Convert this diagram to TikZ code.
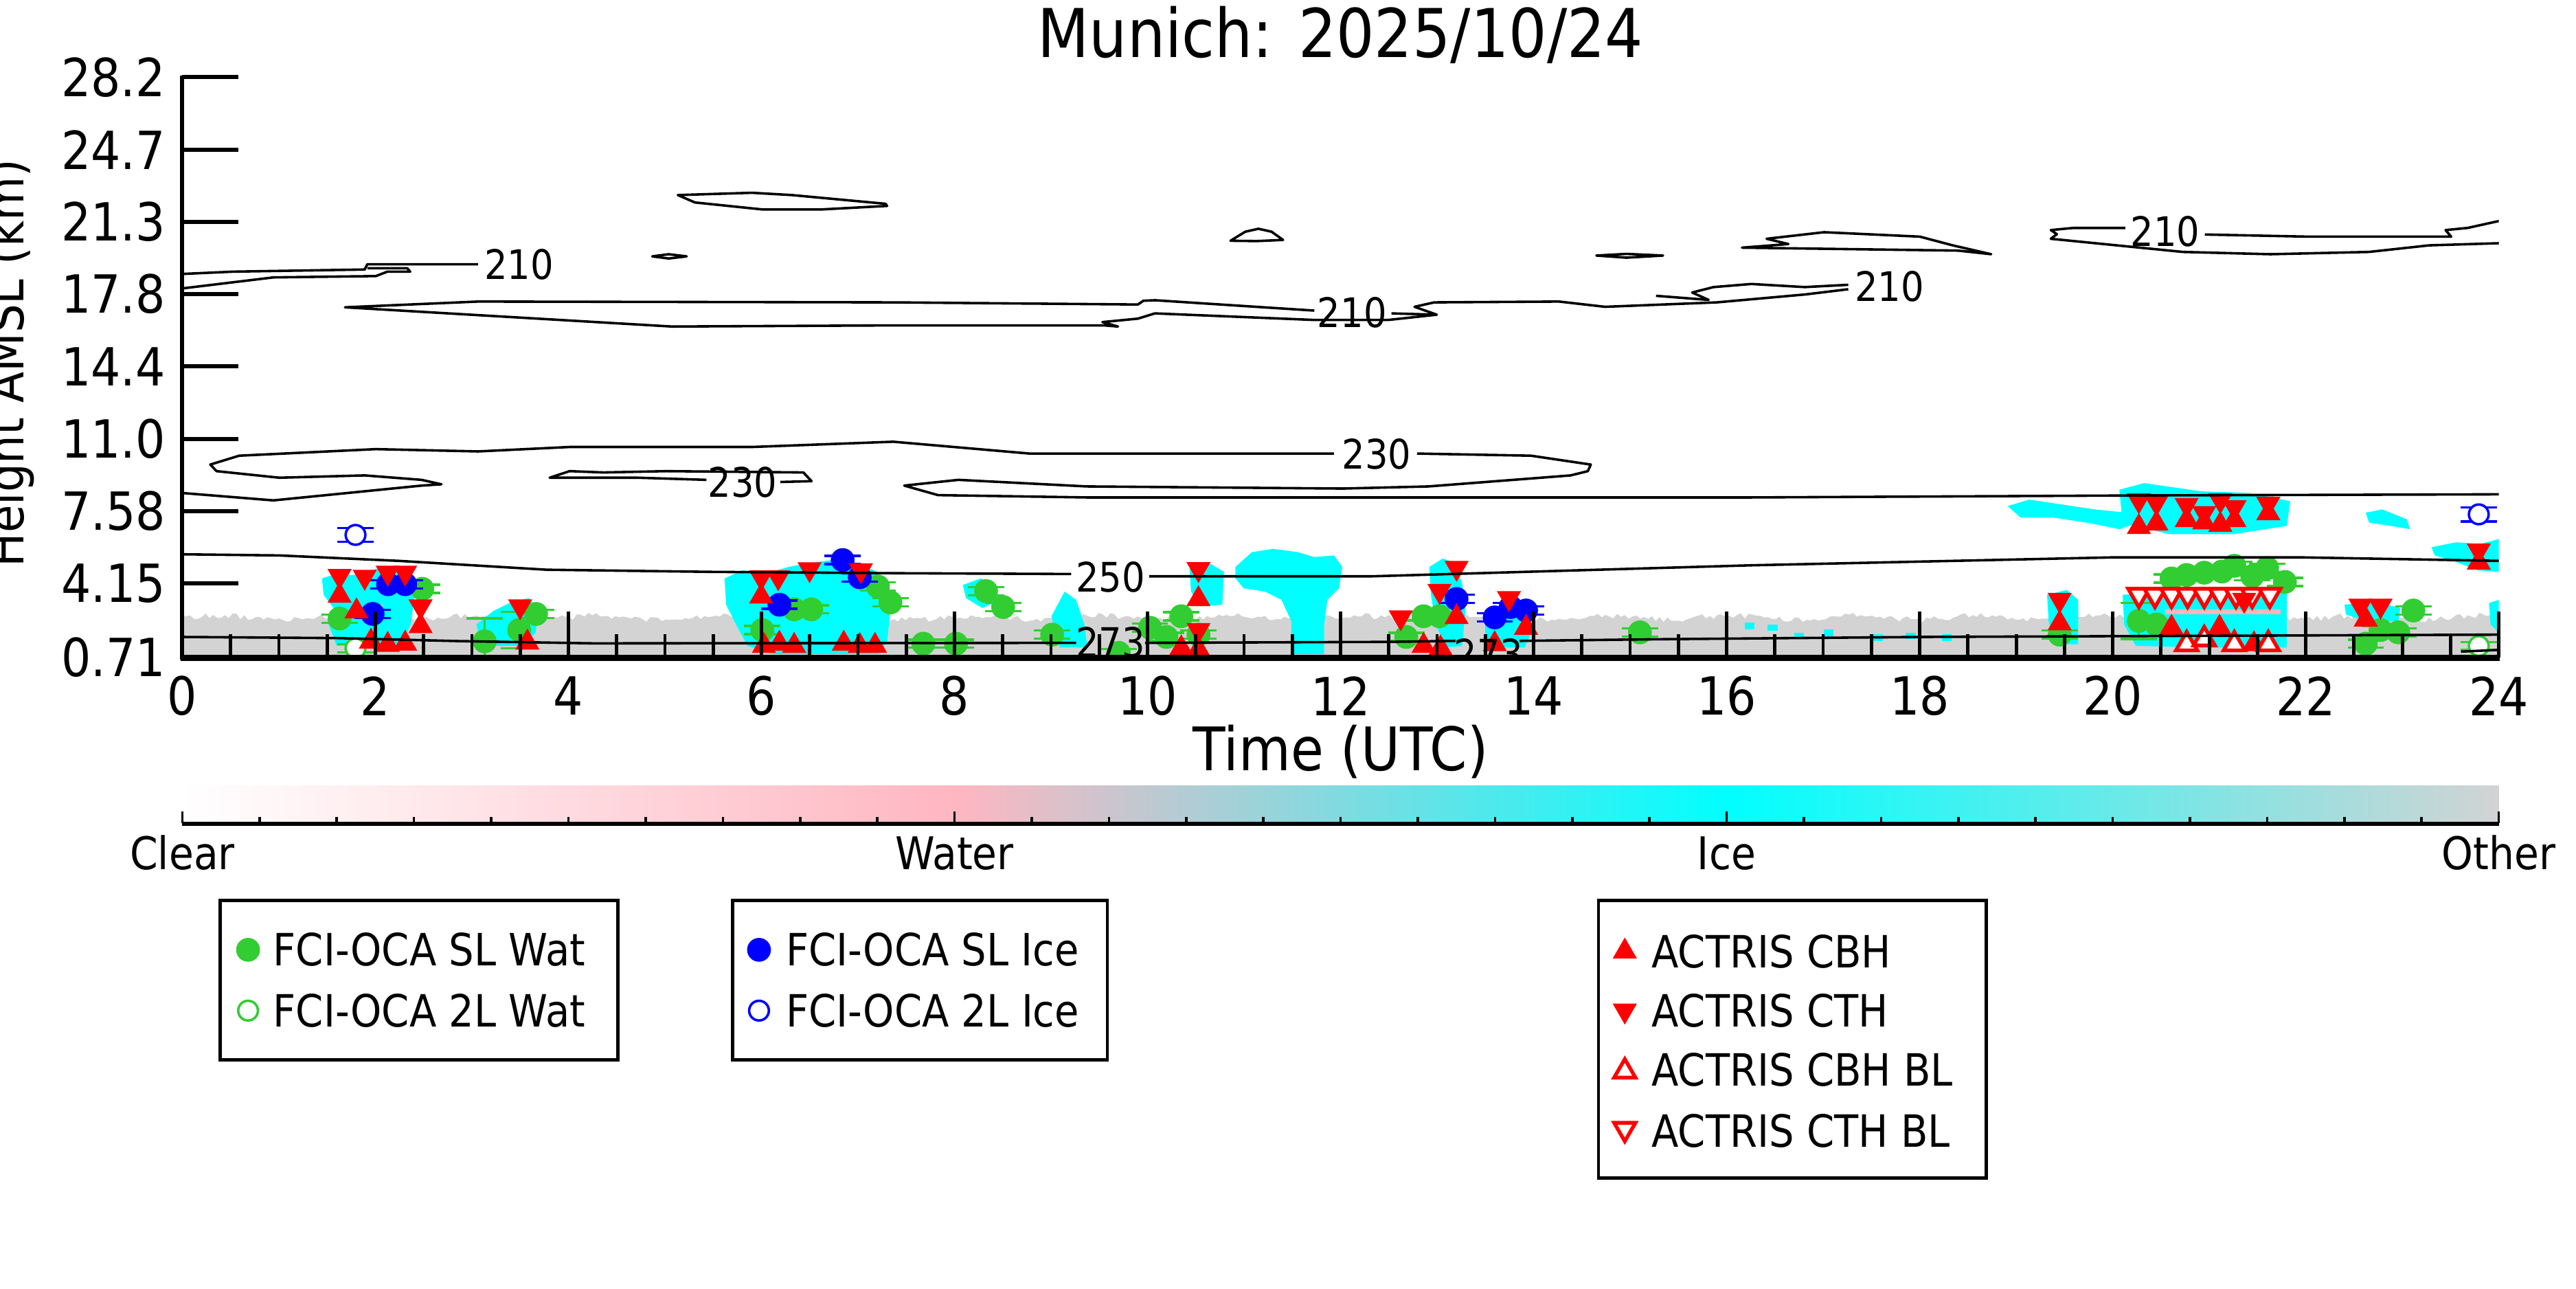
\documentclass[tikz,border=0pt]{standalone}
\usepackage{fontspec}
\setmainfont[FakeStretch=0.89]{DejaVu Sans}
\usepackage{tikz}
\usetikzlibrary{shapes.geometric}
\definecolor{watgreen}{RGB}{50,205,50}
\definecolor{iceblue}{RGB}{0,0,255}
\definecolor{actred}{RGB}{255,0,0}
\definecolor{icecyan}{RGB}{0,255,255}
\definecolor{watpink}{RGB}{255,182,193}
\definecolor{othgray}{RGB}{211,211,211}
\tikzset{
    contour/.style = {line width=0.3mm,line join=round},
    clabel/.style = {inner sep=0,font=\fontsize{14.1}{15}\selectfont},
    ttl/.style = {inner sep=0,font=\fontsize{23.3}{26}\selectfont},
    ticklab/.style = {inner sep=0,font=\fontsize{18.2}{20}\selectfont},
    axlab/.style = {inner sep=0,font=\fontsize{20.8}{23}\selectfont},
    cblab/.style = {inner sep=0,font=\fontsize{15.6}{17}\selectfont},
    leglab/.style = {inner sep=0,anchor=west,font=\fontsize{15.4}{17}\selectfont},
    legbox/.style = {line width=0.4mm},
    ice/.style = {fill=icecyan},
    water/.style = {fill=watpink},
    swat/.style = {circle,fill=watgreen,inner sep=0,minimum size=2.9mm},
    twat/.style = {circle,draw=watgreen,fill=white,line width=0.3mm,inner sep=0,minimum size=2.4mm},
    sice/.style = {circle,fill=iceblue,inner sep=0,minimum size=2.9mm},
    tice/.style = {circle,draw=iceblue,fill=white,line width=0.3mm,inner sep=0,minimum size=2.4mm},
    cbh/.style = {regular polygon,regular polygon sides=3,fill=actred,inner sep=0,minimum size=3.4mm},
    cth/.style = {cbh,regular polygon rotate=180},
    cbhbl/.style = {regular polygon,regular polygon sides=3,draw=actred,fill=white,line width=0.45mm,inner sep=0,minimum size=3mm},
    cthbl/.style = {cbhbl,regular polygon rotate=180},
    pics/errbar/.style = {code={\draw[line width=0.28mm] (-11,-#1) -- (11,-#1) (-11,#1) -- (11,#1) (0,-#1) -- (0,#1);}},
    pics/errbar/.default = 2.5
}

\begin{document}
\begin{tikzpicture}[x=0.2mm,y=-0.2mm]
        \useasboundingbox (0,0) rectangle (1568,784);
        \pgfmathsetseed{4711}
        % Title
        \node[ttl,anchor=base] (title) at (816,35) {Munich: 2025/10/24};
        % Cloud phase field
        \begin{scope}
        \clip (111,47) rectangle (1521,400);
        \fill[othgray] (111,401) -- plot[domain=111:1521,samples=600] (\x,{374+1.2*sin(\x*4.7)+3.5*rnd}) -- (1521,401) -- cycle;
        \fill[ice] (196,352) -- (205,349) -- (215,350) -- (230,346) -- (245,347) -- (253,352) -- (252,365) -- (250,380) -- (244,393) -- (205,393) -- (200,380) -- (203,370) -- (197,362) -- cycle;
        \fill[ice] (290,380) -- (300,372) -- (312,366) -- (322,364) -- (328,372) -- (326,385) -- (318,393) -- (300,393) -- (292,388) -- cycle;
        \fill[ice] (441,352) -- (452,347) -- (466,349) -- (480,345) -- (490,343) -- (505,341) -- (520,343) -- (532,347) -- (540,355) -- (542,372) -- (540,390) -- (535,398) -- (470,398) -- (455,393) -- (448,380) -- (442,368) -- cycle;
        \fill[ice] (586,356) -- (597,352) -- (606,356) -- (607,366) -- (598,370) -- (588,364) -- cycle;
        \fill[ice] (640,375) -- (648,360) -- (655,365) -- (660,380) -- (662,394) -- (645,394) -- cycle;
        \fill[ice] (724,346) -- (735,342) -- (745,348) -- (744,368) -- (730,369) -- (725,360) -- cycle;
        \fill[ice] (752,345) -- (762,336) -- (775,334) -- (790,336) -- (800,339) -- (812,338) -- (817,345) -- (815,358) -- (808,365) -- (806,380) -- (806,398) -- (786,398) -- (786,378) -- (780,365) -- (770,360) -- (757,358) -- (752,352) -- cycle;
        \fill[ice] (870,345) -- (878,340) -- (885,342) -- (890,355) -- (892,372) -- (890,393) -- (880,394) -- (874,380) -- (871,362) -- cycle;
        \fill[ice] (904,372) -- (915,368) -- (930,370) -- (932,385) -- (928,394) -- (908,394) -- (904,385) -- cycle;
        \fill[ice] (1246,362) -- (1258,359) -- (1265,365) -- (1265,392) -- (1250,392) -- (1247,378) -- cycle;
        \fill[ice] (1292,362) -- (1310,360) -- (1340,359) -- (1370,359) -- (1392,360) -- (1392,394) -- (1340,394) -- (1300,393) -- (1293,380) -- cycle;
        \fill[ice] (1222,308) -- (1235,304) -- (1255,307) -- (1275,310) -- (1295,312) -- (1302,318) -- (1290,322) -- (1270,318) -- (1250,315) -- (1230,315) -- cycle;
        \fill[ice] (1290,298) -- (1305,294) -- (1340,299) -- (1370,300) -- (1394,305) -- (1392,320) -- (1360,325) -- (1320,325) -- (1292,318) -- cycle;
        \fill[ice] (1440,312) -- (1450,310) -- (1465,316) -- (1467,322) -- (1455,320) -- (1442,318) -- cycle;
        \fill[ice] (1480,333) -- (1495,330) -- (1510,331) -- (1521,328) -- (1521,348) -- (1508,347) -- (1495,342) -- (1482,338) -- cycle;
        \fill[ice] (1427,368) -- (1445,366) -- (1461,370) -- (1460,378) -- (1440,378) -- (1428,374) -- cycle;
        \fill[ice] (1515,367) -- (1521,365) -- (1521,385) -- (1516,380) -- cycle;
        \foreach \x/\y in {1076/380,1092/385,1110/383,1140/386,1160/385,1182/386,1062/379}
            \fill[ice] (\x,\y) rectangle +(6,4);
        \fill[water] (1318,371) rectangle (1388,374);
        \fill[water] (229,368) rectangle (233,376);
        % FCI-OCA single layer water
        \foreach \x/\y/\e [count=\i] in {206.7/376.4/2.5,257/358.3/2.5,295/390.3/14,316/383.4/11,326.3/373.6/2.5,
                464/383.4/2.5,483.4/370.8/2.5,493.8/370.8/2.5,534.4/356.9/2.5,542/366.6/2.5,562/391.7/2.5,
                581.9/391.7/2.5,600.2/359.7/2.5,610.6/369.4/2.5,640.4/386.2/2.5,681/397.3/2.5,700/382/2.5,
                710/387.6/2.5,719/375/2.5,729.5/386.2/2.5,856/387.6/2.5,866.5/375/2.5,876.2/375/2.5,
                998.2/384.8/2.5,1253.7/386.2/2.5,1301.9/377.8/11,1312.6/380/2.5,1321.8/352/2.5,1331/349.9/2.5,
                1341.7/348.5/2.5,1352.5/347.8/2.5,1360/344.3/2.5,1370.9/350.6/2.5,1380/345.7/2.5,
                1390.8/354.1/2.5,1440/391.7/2.5,1449/383.4/2.5,1459.8/384.8/2.5,1469/371.5/2.5} {
            \pic[watgreen] at (\x,\y) {errbar=\e};
            \node[swat] (sw\i) at (\x,\y) {};
        }
        % FCI-OCA two layer water
        \foreach \x/\y [count=\i] in {216.4/394.5,1508.8/393.1} {
            \pic[watgreen] at (\x,\y) {errbar};
            \node[twat] (tw\i) at (\x,\y) {};
        }
        % FCI-OCA ice
        \foreach \x/\y [count=\i] in {236.2/355.5,246.6/355.5,226.8/373.6,474.4/368,512.9/340.8,523.3/351.3,
                886.6/364.5,909.8/375.7,919.5/369.4,928.9/371.5} {
            \pic[iceblue] at (\x,\y) {errbar};
            \node[sice] (si\i) at (\x,\y) {};
        }
        \foreach \x/\y [count=\i] in {216.4/325.5,1508.8/313} {
            \pic[iceblue] at (\x,\y) {errbar=4.3};
            \node[tice] (ti\i) at (\x,\y) {};
        }
        % ACTRIS
        \foreach \x/\y [count=\i] in {206.7/350.5,222/351,236/348.5,246.6/348.5,256/369,316.6/369,463.3/351.3,
                473.7/351.3,492.8/346.4,524/347.1,729.5/346.3,729.5/383.4,852.6/375.7,876.2/359.6,886.6/345.6,
                918.5/364,1253.7/365,1301.9/304.5,1312.6/305.9,1331/307.3,1341.7/312.2,1351.5/304.5,1360.1/308.7,
                1380.7/306.6,1436.8/368.6,1449/368.6,1508.8/335}
            \node[cth] (th\i) at (\x,\y) {};
        \foreach \x/\y [count=\i] in {206.7/362.5,217/372,256/381,225.8/390.4,236/392.4,246.6/391.7,321/391,
                463.3/363,465/393,474.4/391.7,483.4/393,513.6/391.7,523.3/393,532.6/393,729.5/364.6,719/394.5,
                729.5/395.3,866.5/393,876.8/394.5,886.6/375.5,909.8/392,928.9/382,1253.7/379.3,1301.9/320.7,
                1312.6/318.6,1331/316.5,1341.7/317.9,1351.5/319.3,1360.1/316.5,1380.7/312.3,1321.8/382,1351/382,
                1372/392,1440/377,1508.8/342.3}
            \node[cbh] (bh\i) at (\x,\y) {};
        \foreach \x [count=\i] in {1301.9,1311.7,1321.8,1331.6,1341.7,1351.5,1361,1370.9,1381.6}
            \node[cthbl] (tb\i) at (\x,362) {};
        \node[cth] (th28) at (1366,365) {};
        \foreach \x/\y [count=\i] in {1331/392,1341.7/389,1360/392,1380.7/392}
            \node[cbhbl] (bb\i) at (\x,\y) {};
        % Temperature contours
        \draw[contour] (111,166.7) -- (142,165.3) -- (222,164) -- (223.6,160.8) -- (291,160.8);
        \draw[contour] (111,175.5) -- (166.4,168.8) -- (228.8,168) -- (235.8,165.3) -- (249.7,165.3) -- (247.9,163.2) -- (223.6,163.2);
        \draw[contour] (412.6,118.7) -- (457.7,117.3) -- (482,118.7) -- (539,124) -- (540,125.3) -- (499,127.5) -- (464.6,127.5) -- (423,123.2) -- cycle;
        \draw[contour] (397,156) -- (407,154.7) -- (418,156) -- (407,157.3) -- cycle;
        \draw[contour] (749,146.5) -- (758,141) -- (766,139.2) -- (774,141) -- (781,146) -- (765,146.7) -- cycle;
        \draw[contour] (971.7,155.5) -- (990,154.5) -- (1012.3,155.5) -- (990,156.8) -- cycle;
        \draw[contour] (1060.3,150.7) -- (1088.6,148.5) -- (1075.3,145.3) -- (1110.3,141.3) -- (1168.6,144) -- (1188.6,149.3) -- (1212,154.7) -- (1192,152.5) -- cycle;
        \draw[contour] (1293.6,138.7) -- (1262,138.7) -- (1248.3,140) -- (1252,142.5) -- (1248.3,145.3) -- (1328.6,153.3) -- (1382,154.7) -- (1442,153.3) -- (1478.6,149.3) -- (1521,148);
        \draw[contour] (1342,142.7) -- (1405,144) -- (1492,144) -- (1488.6,140) -- (1502,138.7) -- (1521,134.5);
        \draw[contour] (800,189) -- (703,182.7) -- (696,183) -- (692.6,185.3) -- (544,184) -- (291,183.5) -- (210,187) -- (409,198.7) -- (544,198) -- (672,198) -- (680.5,198.7) -- (671,196) -- (692.6,193.9) -- (703,190.7) -- (800,194.7) -- (845,194.7) -- (874.6,191.5);
        \draw[contour] (847,190.7) -- (874.6,191.5) -- (861,186.7) -- (873,184) -- (949,183.5) -- (977,186.7) -- (1045,184) -- (1098.6,179.2) -- (1125,176);
        \draw[contour] (1008,180) -- (1040,182.5) -- (1030,178) -- (1043,174.7) -- (1066,172.8) -- (1098.6,174.7) -- (1125,173.3);
        \draw[contour] (111,300) -- (166.4,304.5) -- (256.6,295.5) -- (268.7,294.7) -- (256.6,292) -- (222,289.3) -- (170,290.7) -- (131.8,286.7) -- (128,282.7) -- (145.6,277.3) -- (228.8,273.3) -- (291,274.7) -- (346.7,272) -- (457.7,272) -- (543.7,268.8) -- (626.7,276) -- (812,276);
        \draw[contour] (862.5,276) -- (931.9,277.3) -- (968.3,282.7) -- (966.5,286.7) -- (956,289.3) -- (869.5,296) -- (817.4,297.3) -- (661.4,296) -- (583.4,292) -- (550.4,295.5) -- (571,301.3) -- (661.4,302.7) -- (1066,302.7) -- (1300,301.5) -- (1521,300.8);
        \draw[contour] (430,292) -- (388.3,290.7) -- (334.6,290.7) -- (346.7,286.7) -- (367.5,287.5) -- (405.7,286.7) -- (489,287.5) -- (494,292.8) -- (475,293.3);
        \draw[contour] (111,337.3) -- (170,338) -- (242.7,341.3) -- (332.9,346.7) -- (433.4,348) -- (543.7,348.8) -- (652,349.3);
        \draw[contour] (699.5,350.7) -- (834.8,350.7) -- (1066,344) -- (1285,339.2) -- (1402,339.2) -- (1521,341.3);
        \draw[contour] (111,387.6) -- (205,388.3) -- (277.8,390.1) -- (361,391.5) -- (655,391.2);
        \draw[contour] (697,391.2) -- (845.6,390.6) -- (886,390);
        \draw[contour] (925,390) -- (1008.6,389) -- (1170.9,387.6) -- (1521,386.2);
        \draw[contour] (1498,396.5) -- (1521,395.5);
        \node[clabel] (l210a) at (316,161) {210};
        \node[clabel] (l210b) at (823,190) {210};
        \node[clabel] (l210c) at (1150,174.5) {210};
        \node[clabel] (l210d) at (1318,141) {210};
        \node[clabel] (l230a) at (452,293.5) {230};
        \node[clabel] (l230b) at (838,276.5) {230};
        \node[clabel] (l250) at (676,351) {250};
        \node[clabel] (l273a) at (676,391) {273};
        \node[clabel] (l273b) at (906,398) {273};
        \end{scope}
        % Axes
        \foreach \m in {0,...,48} {
            \pgfmathsetmacro\tl{mod(\m,4)==0 ? 28 : 14}
            \draw[line width=0.4mm] (111+\m*29.375,400) -- ++(0,-\tl);
        }
        \foreach \h in {0,2,...,24}
            \node[ticklab] (x\h) at (111+\h*58.75,423.5) {\h};
        \foreach \yy/\lab in {47/28.2,91/24.7,135/21.3,179/17.8,223/14.4,267/11.0,311/7.58,355/4.15,400/0.71} {
            \draw[line width=0.5mm] (111,\yy) -- (145,\yy);
            \node[ticklab,anchor=east] (y\lab) at (101,\yy) {\lab};
        }
        \draw[line width=0.5mm] (111,46) -- (111,401.5);
        \draw[line width=0.75mm] (110,400.5) -- (1521.5,400.5);
        \node[axlab,anchor=base] (xlab) at (816,469) {Time (UTC)};
        \node[axlab,font=\fontsize{17.6}{19}\selectfont,rotate=90,anchor=base] (ylab) at (14.6,221) {Height AMSL (km)};
        % Colour bar
        \shade[left color=white,right color=watpink] (111,478) rectangle (581.5,500.5);
        \shade[left color=watpink,right color=icecyan] (581,478) rectangle (1051.5,500.5);
        \shade[left color=icecyan,right color=othgray] (1051,478) rectangle (1521,500.5);
        \foreach \m in {0,...,30} {
            \pgfmathsetmacro\tl{mod(\m,10)==0 ? 7 : 4}
            \draw[line width=0.3mm] (111+\m*47,501) -- ++(0,-\tl);
        }
        \draw[line width=0.5mm] (111,501.5) -- (1521,501.5);
        \foreach \x/\lab in {111/Clear,581/Water,1051/Ice,1521/Other}
            \node[cblab,anchor=base] (c\lab) at (\x,529) {\lab};
        % Legends
        \draw[legbox] (134,548) rectangle (376,645);
        \node[swat] (ksw) at (151,578) {};
        \node[leglab] (tsw) at (166,578) {FCI-OCA SL Wat};
        \node[twat] (ktw) at (151,615) {};
        \node[leglab] (ttw) at (166,615) {FCI-OCA 2L Wat};
        \draw[legbox] (446,548) rectangle (674,645);
        \node[sice] (ksi) at (462,578) {};
        \node[leglab] (tsi) at (478,578) {FCI-OCA SL Ice};
        \node[tice] (kti) at (462,615) {};
        \node[leglab] (tti) at (478,615) {FCI-OCA 2L Ice};
        \draw[legbox] (973,548) rectangle (1209,717);
        \node[cbh] (kbh) at (989,579) {};
        \node[leglab] (tbh) at (1005,579) {ACTRIS CBH};
        \node[cth] (kth) at (989,615) {};
        \node[leglab] (tth) at (1005,615) {ACTRIS CTH};
        \node[cbhbl] (kbb) at (989,652) {};
        \node[leglab] (tbb) at (1005,651) {ACTRIS CBH BL};
        \node[cthbl] (ktb) at (989,687) {};
        \node[leglab] (ttb) at (1005,688) {ACTRIS CTH BL};
\end{tikzpicture}
\end{document}
